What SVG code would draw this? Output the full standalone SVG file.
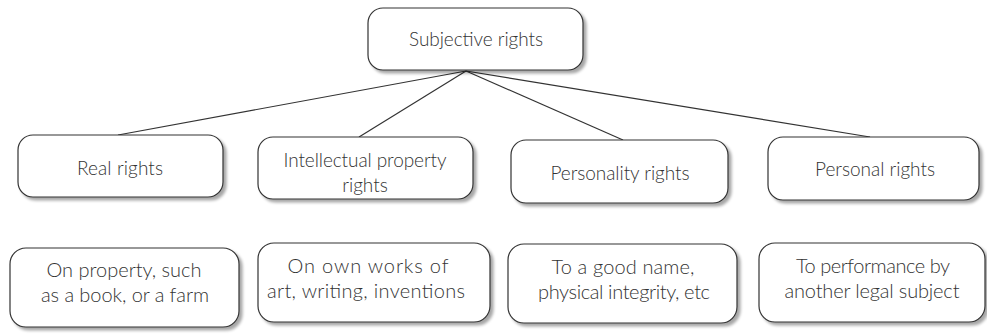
<svg xmlns="http://www.w3.org/2000/svg" width="987" height="334" viewBox="0 0 987 334">
<defs>
<filter id="sh" x="-10%" y="-10%" width="125%" height="130%">
<feGaussianBlur in="SourceAlpha" stdDeviation="1.5"/>
<feOffset dx="3" dy="3" result="b"/>
<feComponentTransfer><feFuncA type="linear" slope="0.35"/></feComponentTransfer>
<feMerge><feMergeNode/><feMergeNode in="SourceGraphic"/></feMerge>
</filter>
</defs>
<style>
.box{fill:#fff;stroke:#333;stroke-width:1.2;filter:url(#sh)}
.t{font-family:Lato,"Open Sans","Liberation Sans",sans-serif;font-size:19px;font-weight:300;fill:#333;text-anchor:middle}
.t2{font-family:Lato,"Open Sans","Liberation Sans",sans-serif;font-size:20px;font-weight:300;fill:#333;text-anchor:middle}
.c{stroke:#333;stroke-width:1.2;fill:none}
</style>
<rect width="987" height="334" fill="#fff"/>
<g id="connectors">
<line class="c" x1="466" y1="71" x2="118" y2="135"/>
<line class="c" x1="466" y1="71" x2="359" y2="137"/>
<line class="c" x1="466" y1="71" x2="623" y2="140"/>
<line class="c" x1="466" y1="71" x2="870" y2="137"/>
</g>
<g id="subjective">
<rect class="box" x="368" y="8" width="215" height="62" rx="15"/>
<text class="t" x="476" y="46" textLength="134" lengthAdjust="spacing">Subjective rights</text>
</g>
<g id="real">
<rect class="box" x="18" y="135" width="205" height="62" rx="15"/>
<text class="t" x="120" y="175" textLength="86" lengthAdjust="spacing">Real rights</text>
</g>
<g id="intellectual">
<rect class="box" x="258" y="137" width="215" height="62" rx="15"/>
<text class="t" x="365" y="167" textLength="163" lengthAdjust="spacing">Intellectual property</text>
<text class="t" x="365" y="192">rights</text>
</g>
<g id="personality">
<rect class="box" x="511" y="140" width="217" height="63" rx="15"/>
<text class="t" x="620" y="180" textLength="139" lengthAdjust="spacing">Personality rights</text>
</g>
<g id="personal">
<rect class="box" x="768" y="137" width="211" height="63" rx="15"/>
<text class="t" x="875" y="176" textLength="120" lengthAdjust="spacing">Personal rights</text>
</g>
<g id="property">
<rect class="box" x="10" y="248" width="229" height="79" rx="16"/>
<text class="t2" x="124" y="277" textLength="155" lengthAdjust="spacing">On property, such</text>
<text class="t2" x="125" y="302" textLength="168" lengthAdjust="spacing">as a book, or a farm</text>
</g>
<g id="works">
<rect class="box" x="258" y="243" width="232" height="79" rx="16"/>
<text class="t2" x="368" y="273" textLength="161" lengthAdjust="spacing">On own works of</text>
<text class="t2" x="366" y="298" textLength="198" lengthAdjust="spacing">art, writing, inventions</text>
</g>
<g id="goodname">
<rect class="box" x="508" y="244" width="229" height="79" rx="16"/>
<text class="t2" x="623" y="274" textLength="143" lengthAdjust="spacing">To a good name,</text>
<text class="t2" x="624" y="299" textLength="172" lengthAdjust="spacing">physical integrity, etc</text>
</g>
<g id="performance">
<rect class="box" x="759" y="243" width="226" height="79" rx="16"/>
<text class="t2" x="873" y="273" textLength="154" lengthAdjust="spacing">To performance by</text>
<text class="t2" x="872" y="298" textLength="175" lengthAdjust="spacing">another legal subject</text>
</g>
</svg>
